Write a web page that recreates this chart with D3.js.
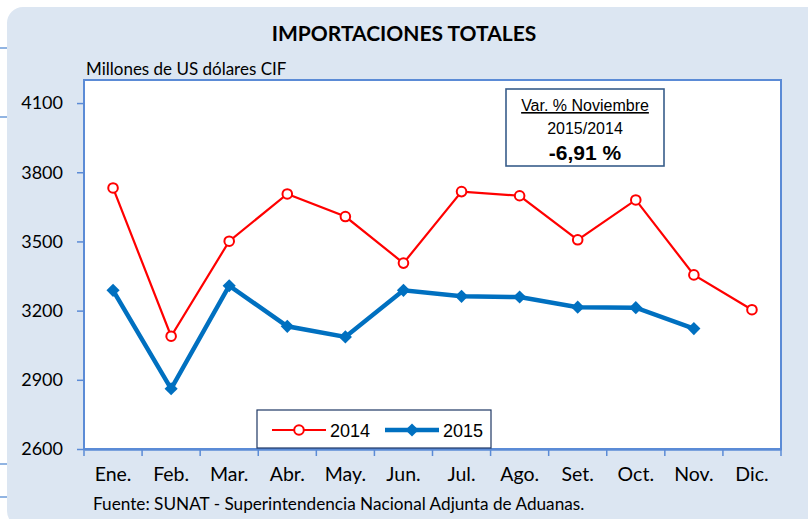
<!DOCTYPE html>
<html><head><meta charset="utf-8">
<script src="https://cdn.jsdelivr.net/npm/d3@7"></script>
<style>body{margin:0;background:#fff;}svg{display:block;}</style>
</head><body>
<svg id="c" width="808" height="519"></svg>
<script>
const months = ["Ene.","Feb.","Mar.","Abr.","May.","Jun.","Jul.","Ago.","Set.","Oct.","Nov.","Dic."];
const values2014 = [3732,3089,3501,3706,3608,3406,3716,3698,3507,3680,3355,3204];
const values2015 = [3288,2861,3308,3132,3086,3288,3262,3259,3215,3213,3122];
const yTicks = [2600,2900,3200,3500,3800,4100];
const seriesNames = ["2014","2015"];

const svg = d3.select("#c");
const axisBlue = "#5B8BD6";
const font = "Lato, 'Open Sans', sans-serif";
const arial = "'Liberation Sans', Arial, sans-serif";

// spreadsheet cell lines outside the panel
[48,117,464,497].forEach(y=>svg.append("line").attr("x1",0).attr("x2",7).attr("y1",y).attr("y2",y)
  .attr("stroke","#6C9BD8").attr("stroke-width",1.5));

// panel
svg.append("rect").attr("x",7).attr("y",7).attr("width",820).attr("height",520).attr("rx",16)
  .attr("fill","#DCE6F2");

const m = {l:84,t:80,r:781,b:449};
const x = d3.scaleBand().domain(months).range([m.l,m.r]);
const y = d3.scaleLinear().domain([2600,4200]).range([m.b,m.t]);

// plot area
svg.append("rect").attr("x",m.l).attr("y",m.t).attr("width",m.r-m.l).attr("height",m.b-m.t)
  .attr("fill","#fff").attr("stroke",axisBlue).attr("stroke-width",2);

// title
svg.append("text").attr("x",404).attr("y",41).attr("text-anchor","middle")
  .attr("font-family",font).attr("font-weight","bold").attr("font-size",21).text("IMPORTACIONES TOTALES");
svg.append("text").attr("x",86).attr("y",75).attr("font-family",font).attr("font-size",17)
  .text("Millones de US dólares CIF");

// y axis
const yAxis = d3.axisLeft(y).tickValues(yTicks).tickSize(7).tickPadding(14).tickFormat(d3.format("d"));
const gy = svg.append("g").attr("transform",`translate(${m.l},0)`).call(yAxis);
gy.select(".domain").remove();
gy.selectAll(".tick line").attr("stroke",axisBlue).attr("stroke-width",1.5);
gy.selectAll(".tick text").attr("font-family",font).attr("font-size",18).attr("fill","#000");

// x axis
const xAxis = d3.axisBottom(x).tickSize(0).tickPadding(18);
const gx = svg.append("g").attr("transform",`translate(0,${m.b})`).call(xAxis);
gx.select(".domain").attr("stroke",axisBlue).attr("stroke-width",2.5);
gx.selectAll(".tick text").attr("font-family",font).attr("font-size",19.5).attr("fill","#000");
const bounds = months.map(d=>x(d)).concat([m.r]);
gx.selectAll(".bt").data(bounds).enter().append("line")
  .attr("x1",d=>d).attr("x2",d=>d).attr("y1",0).attr("y2",7)
  .attr("stroke",axisBlue).attr("stroke-width",1.5);

// footer
svg.append("text").attr("x",93).attr("y",510).attr("font-family",font).attr("font-size",17.2)
  .text("Fuente: SUNAT - Superintendencia Nacional Adjunta de Aduanas.");

// lines
const cx = (d,i)=>x(months[i])+x.bandwidth()/2;
const line = d3.line().x((d,i)=>cx(d,i)).y(d=>y(d));
svg.append("path").datum(values2014).attr("d",line).attr("fill","none").attr("stroke","#FF0000").attr("stroke-width",2.2);
svg.append("path").datum(values2015).attr("d",line).attr("fill","none").attr("stroke","#0070C0").attr("stroke-width",4.5);

svg.selectAll(".m14").data(values2014).enter().append("circle")
  .attr("cx",cx).attr("cy",d=>y(d)).attr("r",4.8).attr("fill","#fff").attr("stroke","#FF0000").attr("stroke-width",2);
const diamond = d3.symbol().type(d3.symbolDiamond2).size(110);
svg.selectAll(".m15").data(values2015).enter().append("path")
  .attr("d",diamond).attr("transform",(d,i)=>`translate(${cx(d,i)},${y(d)})`).attr("fill","#0070C0");

// callout
const g = svg.append("g");
g.append("rect").attr("x",506).attr("y",89).attr("width",158).attr("height",77)
  .attr("fill","#fff").attr("stroke","#385D8A").attr("stroke-width",1.6);
g.append("text").attr("x",585).attr("y",111).attr("text-anchor","middle").attr("font-family",arial)
  .attr("font-size",16).attr("text-decoration","underline").text("Var. % Noviembre");
g.append("text").attr("x",585).attr("y",134).attr("text-anchor","middle").attr("font-family",arial)
  .attr("font-size",16).text("2015/2014");
g.append("text").attr("x",585).attr("y",160).attr("text-anchor","middle").attr("font-family",arial)
  .attr("font-size",21).attr("font-weight","bold").text("-6,91 %");

// legend
const lg = svg.append("g");
lg.append("rect").attr("x",257).attr("y",410).attr("width",234).attr("height",38)
  .attr("fill","#fff").attr("stroke","#1F3864").attr("stroke-width",1.2);
lg.append("line").attr("x1",272).attr("x2",326).attr("y1",430).attr("y2",430).attr("stroke","#FF0000").attr("stroke-width",2.2);
lg.append("circle").attr("cx",299).attr("cy",430).attr("r",4.8).attr("fill","#fff").attr("stroke","#FF0000").attr("stroke-width",2);
lg.append("text").attr("x",330).attr("y",437).attr("font-family",arial).attr("font-size",18).text(seriesNames[0]);
lg.append("line").attr("x1",385).attr("x2",439).attr("y1",430).attr("y2",430).attr("stroke","#0070C0").attr("stroke-width",4.5);
lg.append("path").attr("d",diamond).attr("transform","translate(412,430)").attr("fill","#0070C0");
lg.append("text").attr("x",443).attr("y",437).attr("font-family",arial).attr("font-size",18).text(seriesNames[1]);
</script>
</body></html>
